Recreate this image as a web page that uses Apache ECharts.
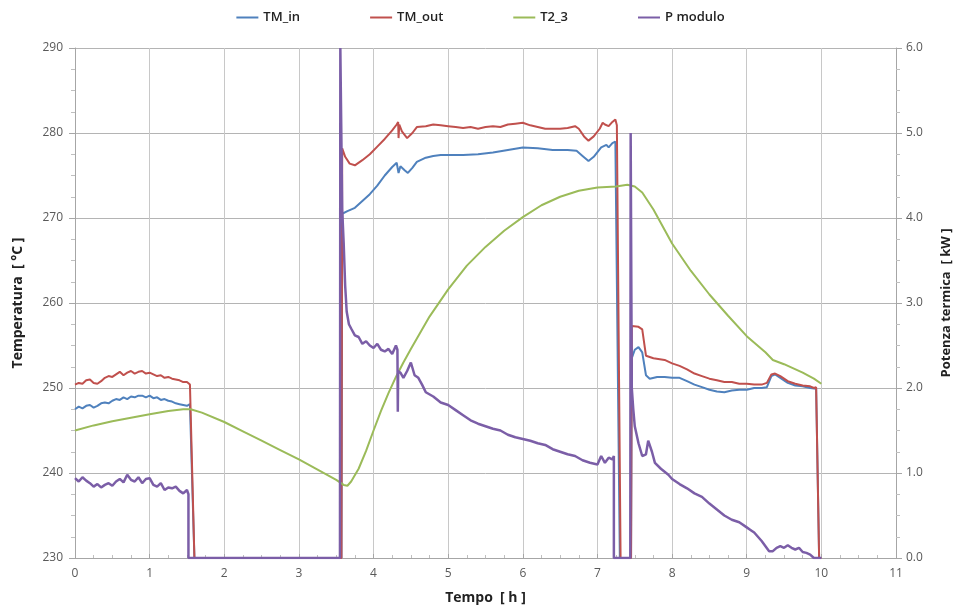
<!DOCTYPE html>
<html><head><meta charset="utf-8">
<script src="https://cdn.jsdelivr.net/npm/echarts@6/dist/echarts.min.js"></script>
<style>html,body{margin:0;padding:0;background:#fff}#c{width:961px;height:616px}</style>
</head><body><div id="c"></div>
<script>
var seriesNames = ['TM_in', 'TM_out', 'T2_3', 'P modulo'];
var xTicks = [0,1,2,3,4,5,6,7,8,9,10,11];

var tmIn = [[0,247.5],[0.05,247.8],[0.1,247.6],[0.15,247.9],[0.2,248],[0.25,247.7],[0.3,247.9],[0.35,248.2],[0.4,248.3],[0.45,248.2],[0.5,248.5],[0.55,248.7],[0.6,248.6],[0.65,248.9],[0.7,248.7],[0.75,249],[0.8,248.9],[0.85,249.1],[0.9,249.1],[0.95,248.9],[1.0,249.1],[1.05,248.8],[1.1,248.9],[1.15,248.6],[1.2,248.7],[1.25,248.5],[1.3,248.4],[1.35,248.2],[1.4,248.1],[1.45,248.0],[1.5,247.9],[1.54,248.1],[1.6,230],[3.57,230],[3.58,270.5],[3.65,270.8],[3.75,271.2],[3.85,272],[3.95,272.8],[4.05,273.8],[4.15,275],[4.25,276],[4.31,276.5],[4.33,276.6],[4.335,275.3],[4.36,276.1],[4.42,275.6],[4.46,275.3],[4.52,275.9],[4.58,276.6],[4.7,277.1],[4.8,277.3],[4.9,277.4],[5.0,277.4],[5.2,277.4],[5.4,277.5],[5.6,277.7],[5.8,278.0],[6.0,278.3],[6.2,278.2],[6.4,278.0],[6.6,278.0],[6.72,277.9],[6.8,277.3],[6.88,276.7],[6.95,277.2],[7.05,278.3],[7.12,278.6],[7.15,278.3],[7.2,278.8],[7.24,279.0],[7.3,230],[7.45,230],[7.46,253.5],[7.5,254.5],[7.55,254.8],[7.6,254.2],[7.65,251.5],[7.7,251.1],[7.8,251.3],[7.9,251.3],[8.0,251.2],[8.1,251.2],[8.2,250.8],[8.3,250.4],[8.4,250.1],[8.5,249.8],[8.6,249.6],[8.7,249.5],[8.8,249.7],[8.9,249.8],[9.0,249.8],[9.1,250],[9.2,250],[9.27,250.1],[9.33,251.4],[9.38,251.6],[9.45,251.2],[9.55,250.6],[9.65,250.3],[9.75,250.2],[9.85,250],[9.93,249.9],[9.97,230]];

var tmOut = [[0,250.4],[0.05,250.6],[0.1,250.5],[0.15,250.9],[0.2,251],[0.25,250.6],[0.3,250.5],[0.35,250.8],[0.4,251.2],[0.45,251.4],[0.5,251.3],[0.55,251.6],[0.6,251.9],[0.65,251.5],[0.7,251.8],[0.75,252],[0.8,251.7],[0.85,251.9],[0.9,252],[0.95,251.7],[1.0,251.8],[1.05,251.6],[1.1,251.4],[1.15,251.5],[1.2,251.2],[1.25,251.3],[1.3,251.1],[1.35,251.0],[1.4,250.9],[1.45,250.7],[1.5,250.7],[1.54,250.4],[1.6,230],[3.57,230],[3.58,278.2],[3.62,277.2],[3.68,276.4],[3.75,276.2],[3.85,276.8],[3.95,277.5],[4.05,278.4],[4.15,279.3],[4.25,280.3],[4.31,281.0],[4.33,281.3],[4.335,279.4],[4.345,281.0],[4.38,280.2],[4.45,279.4],[4.52,280.0],[4.58,280.7],[4.7,280.8],[4.8,281],[4.9,280.9],[5.0,280.8],[5.1,280.7],[5.2,280.6],[5.3,280.7],[5.4,280.5],[5.5,280.7],[5.6,280.8],[5.7,280.7],[5.8,281],[5.9,281.1],[6.0,281.2],[6.1,280.9],[6.2,280.7],[6.3,280.5],[6.4,280.5],[6.5,280.5],[6.6,280.6],[6.7,280.8],[6.75,280.5],[6.82,279.6],[6.88,279.1],[6.95,279.6],[7.03,280.5],[7.07,281.2],[7.1,281],[7.15,280.8],[7.2,281.3],[7.24,281.6],[7.26,280.9],[7.31,230],[7.45,230],[7.46,257.3],[7.55,257.2],[7.6,256.9],[7.65,253.8],[7.75,253.5],[7.9,253.3],[8.0,252.9],[8.1,252.6],[8.2,252.2],[8.3,251.7],[8.4,251.4],[8.5,251.1],[8.6,250.9],[8.7,250.7],[8.8,250.7],[8.9,250.5],[9.0,250.5],[9.1,250.4],[9.2,250.4],[9.27,250.6],[9.33,251.6],[9.38,251.7],[9.45,251.4],[9.55,250.8],[9.65,250.5],[9.75,250.3],[9.85,250.2],[9.9,250.0],[9.93,250.1],[9.97,230],[10.0,230]];

var t23 = [[0,245],[0.25,245.6],[0.5,246.1],[0.75,246.5],[1.0,246.9],[1.25,247.3],[1.45,247.5],[1.55,247.5],[1.7,247.1],[2.0,246.0],[2.25,244.9],[2.5,243.8],[2.75,242.7],[3.0,241.6],[3.25,240.4],[3.5,239.2],[3.6,238.6],[3.65,238.5],[3.7,239],[3.8,240.5],[3.9,242.6],[4.0,245],[4.1,247.3],[4.2,249.4],[4.3,251.3],[4.4,253],[4.5,254.6],[4.75,258.4],[5.0,261.6],[5.25,264.4],[5.5,266.6],[5.75,268.5],[6.0,270.1],[6.25,271.5],[6.5,272.5],[6.75,273.2],[7.0,273.6],[7.25,273.7],[7.4,273.9],[7.5,273.7],[7.6,273],[7.75,271],[8.0,267],[8.25,263.8],[8.5,261],[8.75,258.5],[9.0,256.1],[9.25,254.2],[9.35,253.3],[9.5,252.8],[9.75,251.8],[9.9,251.1],[10.0,250.5]];

var pMod = [[0,0.94],[0.05,0.9],[0.1,0.95],[0.15,0.91],[0.2,0.88],[0.25,0.84],[0.3,0.87],[0.35,0.83],[0.4,0.86],[0.45,0.88],[0.5,0.85],[0.55,0.9],[0.6,0.93],[0.65,0.89],[0.7,0.98],[0.75,0.92],[0.8,0.9],[0.85,0.95],[0.9,0.88],[0.95,0.93],[1.0,0.94],[1.05,0.86],[1.1,0.84],[1.15,0.88],[1.2,0.8],[1.25,0.83],[1.3,0.82],[1.35,0.84],[1.4,0.79],[1.45,0.76],[1.5,0.8],[1.52,0.75],[1.52,0],[3.55,0],[3.555,6.0],[3.57,6.0],[3.58,4.1],[3.6,3.7],[3.62,3.2],[3.64,2.9],[3.67,2.75],[3.7,2.7],[3.75,2.62],[3.8,2.6],[3.85,2.52],[3.9,2.55],[3.95,2.5],[4.0,2.47],[4.05,2.52],[4.1,2.45],[4.15,2.43],[4.2,2.46],[4.25,2.4],[4.3,2.5],[4.32,2.45],[4.325,1.72],[4.33,2.2],[4.36,2.18],[4.4,2.12],[4.45,2.2],[4.5,2.3],[4.55,2.15],[4.6,2.12],[4.65,2.04],[4.7,1.95],[4.8,1.9],[4.9,1.83],[5.0,1.8],[5.1,1.74],[5.2,1.68],[5.3,1.62],[5.4,1.58],[5.5,1.55],[5.6,1.52],[5.7,1.5],[5.8,1.45],[5.9,1.42],[6.0,1.4],[6.1,1.38],[6.2,1.35],[6.3,1.33],[6.4,1.28],[6.5,1.25],[6.6,1.22],[6.7,1.2],[6.8,1.15],[6.9,1.12],[7.0,1.1],[7.05,1.2],[7.1,1.12],[7.15,1.18],[7.2,1.16],[7.22,1.2],[7.22,0],[7.44,0],[7.445,5.0],[7.455,5.0],[7.46,2.0],[7.48,1.75],[7.5,1.55],[7.55,1.35],[7.6,1.2],[7.65,1.22],[7.68,1.38],[7.7,1.4],[7.73,1.25],[7.77,1.12],[7.85,1.05],[7.95,0.98],[8.0,0.93],[8.1,0.87],[8.2,0.82],[8.3,0.76],[8.4,0.72],[8.5,0.64],[8.6,0.57],[8.7,0.5],[8.8,0.45],[8.9,0.42],[9.0,0.36],[9.05,0.33],[9.1,0.3],[9.2,0.2],[9.3,0.08],[9.35,0.08],[9.4,0.12],[9.45,0.14],[9.5,0.12],[9.55,0.15],[9.6,0.12],[9.65,0.1],[9.7,0.12],[9.75,0.07],[9.8,0.06],[9.85,0.04],[9.9,0.0],[10.0,0]];

var colors = ['#4F81BD', '#C0504D', '#9BBB59', '#7B5EA7'];
var font = 'Open Sans';

var chart = echarts.init(document.getElementById('c'), null, {renderer: 'canvas'});
function mk(name, data, idx, yIdx, w) {
  return {name: name, type: 'line', data: data, yAxisIndex: yIdx, showSymbol: false, symbol: 'none',
    lineStyle: {color: colors[idx], width: w}, itemStyle: {color: colors[idx]}, animation: false, clip: true};
}
chart.setOption({
  animation: false,
  textStyle: {fontFamily: font},
  legend: {top: 6, left: 'center', itemGap: 70, itemWidth: 22, itemHeight: 2, icon: 'rect',
    textStyle: {fontSize: 13, fontWeight: 600, color: '#222', fontFamily: font},
    data: seriesNames},
  grid: {left: 75, right: 65, top: 48, bottom: 58},
  xAxis: {type: 'value', min: 0, max: 11, interval: 1,
    name: 'Tempo  [ h ]', nameLocation: 'middle', nameGap: 33,
    nameTextStyle: {fontSize: 14, fontWeight: 'bold', color: '#222'},
    axisLine: {lineStyle: {color: '#A6A6A6'}},
    axisTick: {show: true, inside: true, length: 4, lineStyle: {color: '#A6A6A6'}},
    minorTick: {show: true, splitNumber: 4, length: 3, lineStyle: {color: '#BFBFBF'}},
    axisLabel: {color: '#595959', fontSize: 12, margin: 10},
    splitLine: {show: true, lineStyle: {color: '#C8C8C8', width: 1}}},
  yAxis: [
    {type: 'value', min: 230, max: 290, interval: 10,
     name: 'Temperatura  [ °C ]', nameLocation: 'middle', nameGap: 50,
     nameTextStyle: {fontSize: 14, fontWeight: 'bold', color: '#222'},
     axisLine: {show: true, lineStyle: {color: '#A6A6A6'}},
     axisTick: {show: true, length: 6, lineStyle: {color: '#A6A6A6'}},
     minorTick: {show: true, splitNumber: 4, length: 4, lineStyle: {color: '#BFBFBF'}},
     axisLabel: {color: '#595959', fontSize: 12, margin: 12},
     splitLine: {show: true, lineStyle: {color: '#B4B4B4', width: 1}}},
    {type: 'value', min: 0, max: 6, interval: 1,
     name: 'Potenza termica  [ kW ]', nameLocation: 'middle', nameGap: 44,
     nameTextStyle: {fontSize: 13, fontWeight: 'bold', color: '#222'},
     axisLine: {show: true, lineStyle: {color: '#A6A6A6'}},
     axisTick: {show: true, length: 6, lineStyle: {color: '#A6A6A6'}},
     minorTick: {show: true, splitNumber: 4, length: 4, lineStyle: {color: '#BFBFBF'}},
     axisLabel: {color: '#595959', fontSize: 12, margin: 10, formatter: function(v){return v.toFixed(1);}},
     splitLine: {show: false}}
  ],
  series: [
    mk('TM_in', tmIn, 0, 0, 2),
    mk('TM_out', tmOut, 1, 0, 2),
    mk('T2_3', t23, 2, 0, 2),
    mk('P modulo', pMod, 3, 1, 2.5)
  ]
});
</script>
</body></html>
